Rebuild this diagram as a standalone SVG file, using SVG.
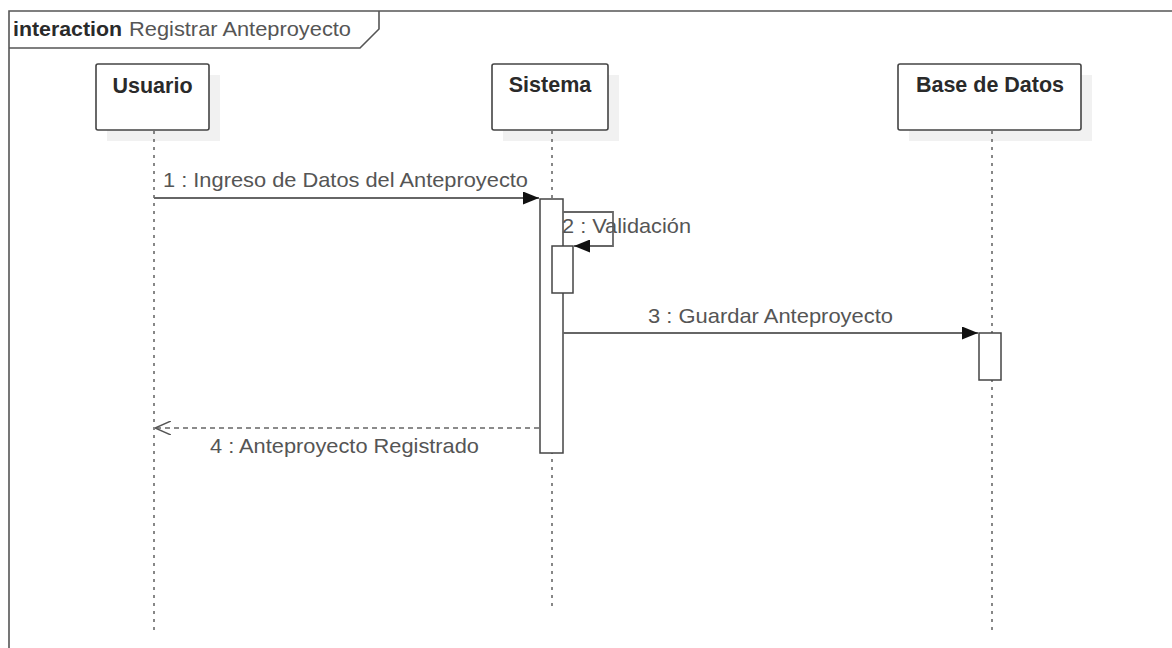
<svg xmlns="http://www.w3.org/2000/svg" width="1172" height="648" viewBox="0 0 1172 648">
  <style>
    .frame { fill: none; stroke: #555; stroke-width: 1.6; }
    .head { fill: #fff; stroke: #444; stroke-width: 1.6; }
    .shadow { fill: #f1f1f1; stroke: none; }
    .life { stroke: #555; stroke-width: 1.4; stroke-dasharray: 3 5; fill: none; }
    .act { fill: #fff; stroke: #444; stroke-width: 1.5; }
    .msg { fill: none; stroke: #666; stroke-width: 1.8; }
    .reply { fill: none; stroke: #666; stroke-width: 1.6; stroke-dasharray: 5 4; }
    .name { font-family: "Liberation Sans", Arial, sans-serif; font-size: 21.5px; font-weight: bold; fill: #2a2a2a; text-anchor: middle; }
    .lbl { font-family: "Liberation Sans", Arial, sans-serif; font-size: 21px; fill: #555; }
    .kw { font-family: "Liberation Sans", Arial, sans-serif; font-size: 21px; font-weight: bold; fill: #2a2a2a; }
  </style>
  <defs>
    <marker id="filled" viewBox="0 0 16 13" refX="16" refY="6.5" markerWidth="16" markerHeight="13" markerUnits="userSpaceOnUse" orient="auto">
      <path d="M0,0 L16,6.5 L0,13 Z" fill="#111"/>
    </marker>
    <marker id="open" viewBox="0 0 16 14" refX="16" refY="7" markerWidth="16" markerHeight="14" markerUnits="userSpaceOnUse" orient="auto">
      <path d="M0,0 L16,7 L0,14" fill="none" stroke="#555" stroke-width="1.5"/>
    </marker>
  </defs>

  <rect width="1172" height="648" fill="#fff"/>

  <!-- interaction frame -->
  <g id="frame">
    <path class="frame" d="M9,660 L9,11 L1180,11"/>
    <path class="frame" d="M9,48 L360,48 L379,29 L379,11"/>
    <text x="13" y="36" class="kw" textLength="109" lengthAdjust="spacingAndGlyphs">interaction</text>
    <text x="129" y="36" class="lbl" textLength="222" lengthAdjust="spacingAndGlyphs">Registrar Anteproyecto</text>
  </g>

  <!-- lifeline: Usuario -->
  <g id="usuario">
    <rect class="shadow" x="107" y="75" width="113" height="66"/>
    <rect class="head" x="96" y="64" width="113" height="66" rx="2"/>
    <text x="152.5" y="93" class="name">Usuario</text>
    <line class="life" x1="154" y1="131" x2="154" y2="631"/>
  </g>

  <!-- lifeline: Sistema -->
  <g id="sistema">
    <rect class="shadow" x="503" y="75" width="116" height="66"/>
    <rect class="head" x="492" y="64" width="116" height="66" rx="2"/>
    <text x="550" y="92" class="name">Sistema</text>
    <line class="life" x1="552" y1="131" x2="552" y2="611"/>
    <rect class="act" x="540" y="199" width="23" height="254"/>
    <rect class="act" x="552" y="246" width="21" height="47"/>
  </g>

  <!-- lifeline: Base de Datos -->
  <g id="base-de-datos">
    <rect class="shadow" x="909" y="75" width="183" height="66"/>
    <rect class="head" x="898" y="64" width="183" height="66" rx="2"/>
    <text x="990" y="92" class="name">Base de Datos</text>
    <line class="life" x1="992" y1="131" x2="992" y2="631"/>
    <rect class="act" x="979" y="333" width="22" height="47"/>
  </g>

  <!-- messages -->
  <g id="connectors">
    <line class="msg" x1="154" y1="198" x2="539" y2="198" marker-end="url(#filled)"/>
    <text x="163" y="187" class="lbl" textLength="365" lengthAdjust="spacingAndGlyphs">1 : Ingreso de Datos del Anteproyecto</text>

    <path class="msg" d="M563,212 L613,212 L613,246 L574,246" marker-end="url(#filled)"/>
    <text x="562" y="233" class="lbl" textLength="129" lengthAdjust="spacingAndGlyphs">2 : Validación</text>

    <line class="msg" x1="563" y1="333" x2="978" y2="333" marker-end="url(#filled)"/>
    <text x="648" y="323" class="lbl" textLength="245" lengthAdjust="spacingAndGlyphs">3 : Guardar Anteproyecto</text>

    <line class="reply" x1="539" y1="428" x2="155" y2="428" marker-end="url(#open)"/>
    <text x="210" y="453" class="lbl" textLength="269" lengthAdjust="spacingAndGlyphs">4 : Anteproyecto Registrado</text>
  </g>
</svg>
